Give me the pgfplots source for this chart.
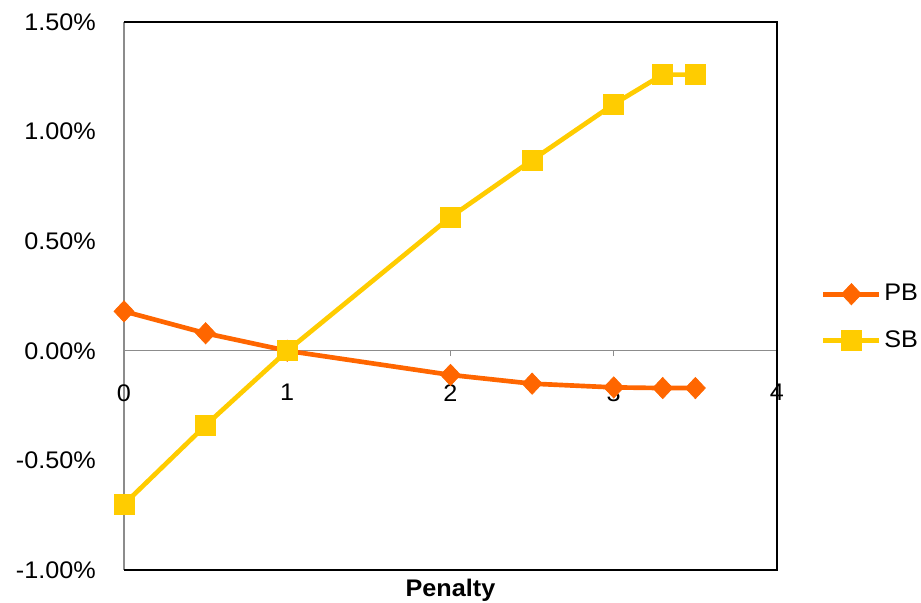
\documentclass[border=0pt]{standalone}
\usepackage{fontspec}
\setmainfont{Liberation Sans}[FakeStretch=1.05]
\usepackage{pgfplots}
\pgfplotsset{compat=1.18}
\definecolor{pbcol}{HTML}{FF6600}
\definecolor{sbcol}{HTML}{FFCC00}
\begin{document}
\fontsize{18pt}{21pt}\selectfont
\begin{tikzpicture}
\useasboundingbox (-93pt,-24.75pt) rectangle (597.75pt,427.5pt);
\begin{axis}[
  at={(0,0)}, anchor=south west,
  scale only axis, width=489.75pt, height=411pt,
  xmin=0, xmax=4, ymin=-1, ymax=1.5,
  axis x line=middle, axis y line=left,
  axis line style={-, draw=gray!90, line width=0.9pt},
  hide obscured x ticks=false,
  xtick={0,1,2,3,4}, ytick={-1,-0.5,0,0.5,1,1.5},
  xtick style={draw=gray!90, line width=0.9pt},
  tick align=outside, major tick length=4pt,
  ytick style={draw=none},
  /pgf/number format/assume math mode=true,
  font=\fontsize{18pt}{21pt}\selectfont,
  xticklabel style={yshift=-15pt},
  yticklabel={\pgfmathprintnumber[fixed,fixed zerofill,precision=2]{\tick}\%},
  yticklabel style={xshift=-11pt},
  xlabel={\bfseries Penalty},
  xlabel style={at={(axis description cs:0.5,0)}, anchor=north, yshift=-1pt},
  clip=false,
  legend style={at={(1.061,0.461)}, anchor=west, draw=none, fill=none,
    row sep=15.5pt, font=\fontsize{18pt}{21pt}\selectfont},
  legend cell align=left,
  legend image code/.code={%
    \draw[#1, mark repeat=2, mark phase=2] plot coordinates {(0pt,0pt) (21pt,0pt) (42pt,0pt)};},
  after end axis/.code={%
    \draw[black, line width=1.5pt] (rel axis cs:0,1) -- (rel axis cs:1,1) -- (rel axis cs:1,0) -- (rel axis cs:0,0);},
]
\addplot[color=pbcol, line width=3.5pt, mark=diamond*, mark size=8pt,
  mark options={solid, xscale=1.25, line width=0.5pt}]
  coordinates {(0,0.18) (0.5,0.08) (1,0) (2,-0.11) (2.5,-0.15) (3,-0.167) (3.3,-0.17) (3.5,-0.17)};
\addlegendentry{PB}
\addplot[color=sbcol, line width=3.5pt, mark=square*, mark size=7.5pt,
  mark options={solid, line width=0.5pt}]
  coordinates {(0,-0.70) (0.5,-0.34) (1,0) (2,0.61) (2.5,0.87) (3,1.125) (3.3,1.26) (3.5,1.26)};
\addlegendentry{SB}
\end{axis}
\end{tikzpicture}
\end{document}
